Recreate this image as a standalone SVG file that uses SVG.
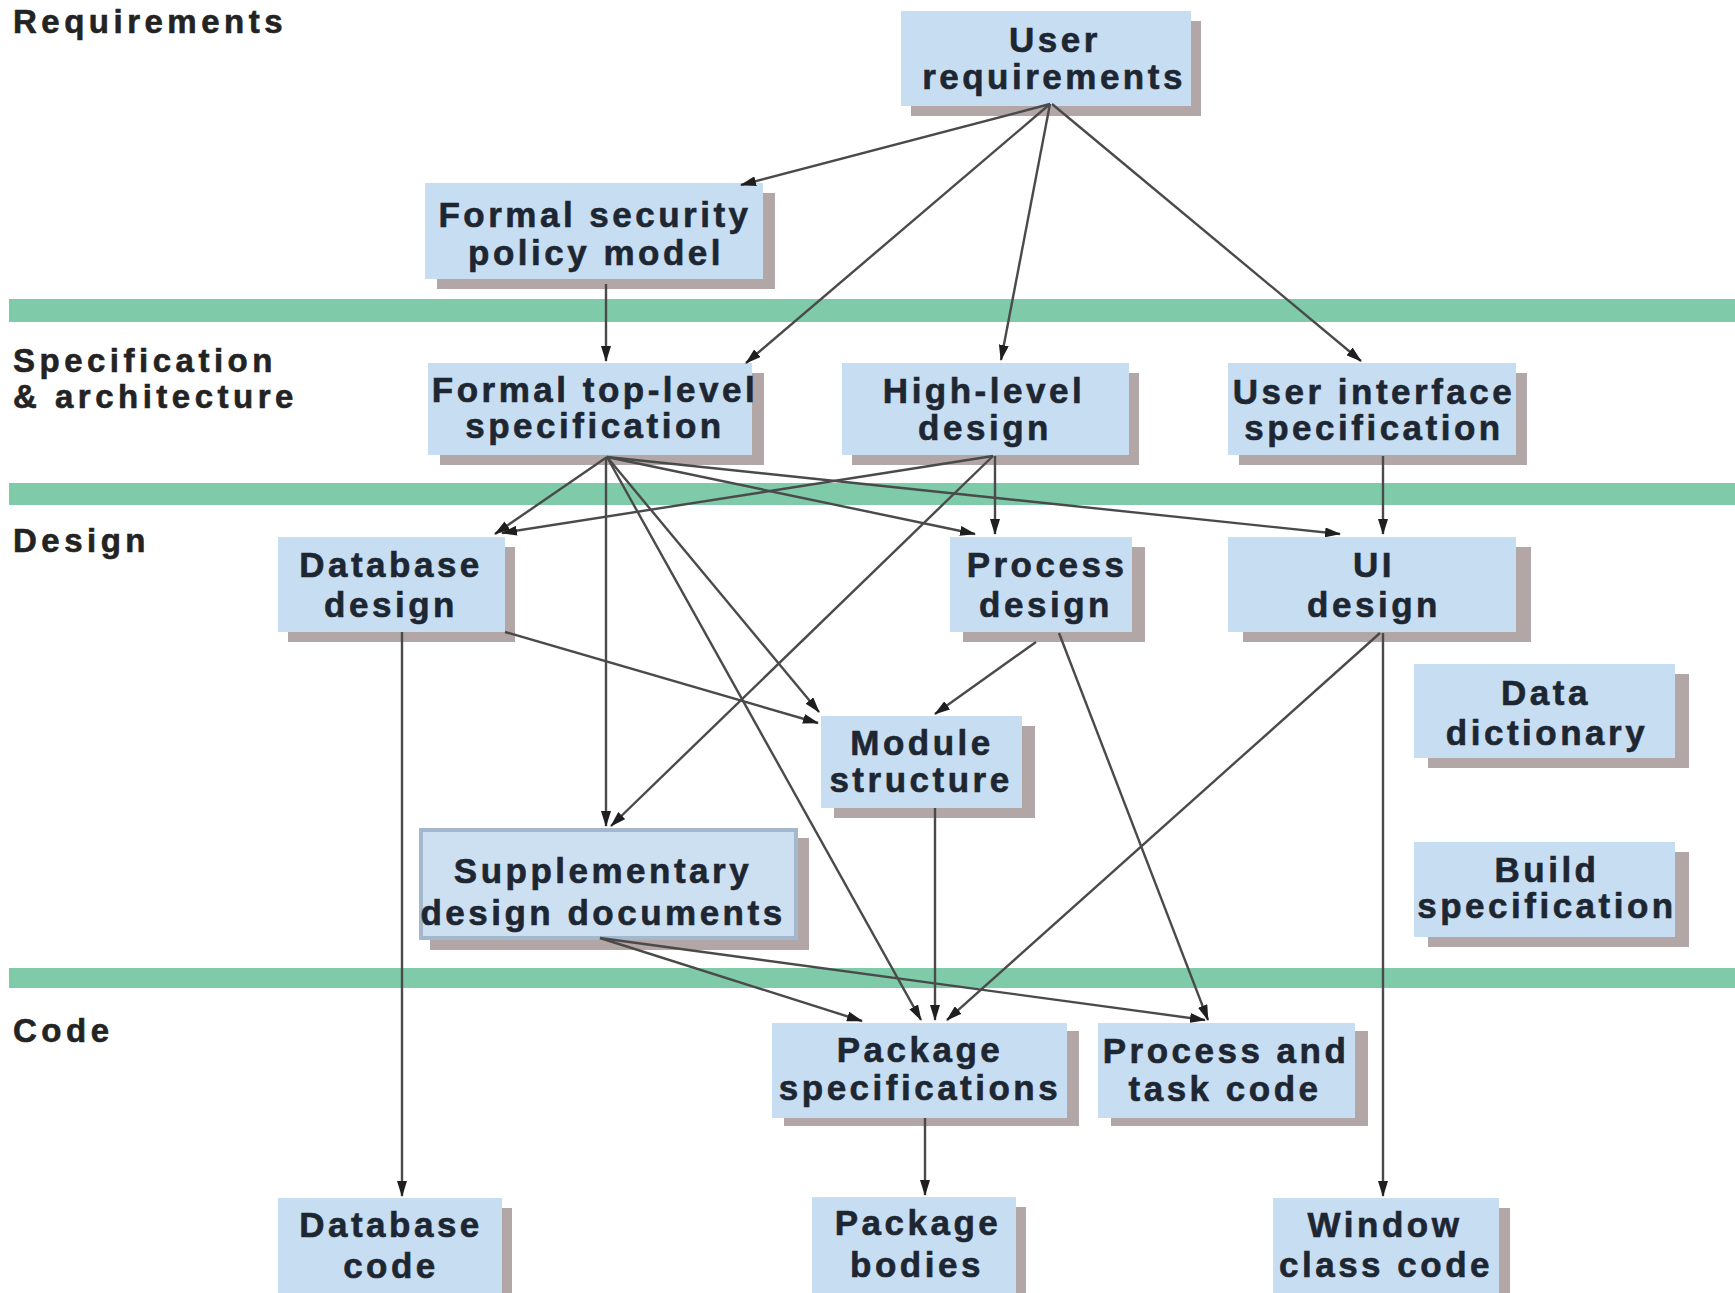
<svg xmlns="http://www.w3.org/2000/svg" width="1735" height="1293" viewBox="0 0 1735 1293">
  <style>
    .band { fill: #7ecaa9; }
    .lane { font-family: "Liberation Sans", Arial, sans-serif; font-weight: bold; font-size: 33px; letter-spacing: 4.5px; fill: #232323; stroke: #232323; stroke-width: 0.6; }
    .box { fill: #c7ddf2; }
    .box-doc { fill: #cde0f2; stroke: #a3b8cc; stroke-width: 4; }
    .shadow { fill: #b2a6a7; }
    .label { font-family: "Liberation Sans", Arial, sans-serif; font-weight: bold; font-size: 35px; letter-spacing: 3.5px; fill: #1d2631; stroke: #1d2631; stroke-width: 0.6; text-anchor: middle; }
    .edge { fill: none; stroke: #4a4a4a; stroke-width: 2.4; marker-end: url(#arrow); }
  </style>
  <defs>
    <marker id="arrow" viewBox="0 0 16 10" refX="15" refY="5" markerWidth="16" markerHeight="10" markerUnits="userSpaceOnUse" orient="auto">
      <path d="M0,0 L16,5 L0,10 Z" fill="#1f1f1f"/>
    </marker>
  </defs>

  <rect width="1735" height="1293" fill="#ffffff"/>

  <!-- phase separators -->
  <g id="bands">
    <rect class="band" x="9" y="299" width="1726" height="23"/>
    <rect class="band" x="9" y="483" width="1726" height="22"/>
    <rect class="band" x="9" y="968" width="1726" height="20"/>
  </g>

  <!-- phase names -->
  <g id="lanes">
    <text class="lane" x="13" y="33">Requirements</text>
    <text class="lane" x="13" y="372">Specification</text>
    <text class="lane" x="13" y="408">&amp; architecture</text>
    <text class="lane" x="13" y="552">Design</text>
    <text class="lane" x="13" y="1042">Code</text>
  </g>

  <g id="user-requirements">
    <rect class="shadow" x="911" y="21" width="290" height="95"/>
    <rect class="box" x="901" y="11" width="290" height="95"/>
    <text class="label" x="1055" y="52">User</text>
    <text class="label" x="1054" y="89">requirements</text>
  </g>

  <g id="formal-security-policy-model">
    <rect class="shadow" x="437" y="193" width="338" height="96"/>
    <rect class="box" x="425" y="183" width="338" height="96"/>
    <text class="label" x="595" y="227">Formal security</text>
    <text class="label" x="596" y="265">policy model</text>
  </g>

  <g id="formal-top-level-specification">
    <rect class="shadow" x="440" y="373" width="324" height="92"/>
    <rect class="box" x="428" y="363" width="324" height="92"/>
    <text class="label" x="595" y="402">Formal top-level</text>
    <text class="label" x="595" y="438">specification</text>
  </g>

  <g id="high-level-design">
    <rect class="shadow" x="852" y="373" width="287" height="92"/>
    <rect class="box" x="842" y="363" width="287" height="92"/>
    <text class="label" x="984" y="403">High-level</text>
    <text class="label" x="985" y="440">design</text>
  </g>

  <g id="user-interface-specification">
    <rect class="shadow" x="1239" y="373" width="288" height="92"/>
    <rect class="box" x="1228" y="363" width="288" height="92"/>
    <text class="label" x="1374" y="404">User interface</text>
    <text class="label" x="1374" y="440">specification</text>
  </g>

  <g id="database-design">
    <rect class="shadow" x="288" y="547" width="227" height="95"/>
    <rect class="box" x="278" y="537" width="227" height="95"/>
    <text class="label" x="391" y="577">Database</text>
    <text class="label" x="391" y="617">design</text>
  </g>

  <g id="process-design">
    <rect class="shadow" x="963" y="547" width="182" height="95"/>
    <rect class="box" x="950" y="537" width="182" height="95"/>
    <text class="label" x="1047" y="577">Process</text>
    <text class="label" x="1046" y="617">design</text>
  </g>

  <g id="ui-design">
    <rect class="shadow" x="1243" y="547" width="288" height="95"/>
    <rect class="box" x="1228" y="537" width="288" height="95"/>
    <text class="label" x="1374" y="577">UI</text>
    <text class="label" x="1374" y="617">design</text>
  </g>

  <g id="data-dictionary">
    <rect class="shadow" x="1428" y="674" width="261" height="94"/>
    <rect class="box" x="1414" y="664" width="261" height="94"/>
    <text class="label" x="1546" y="705">Data</text>
    <text class="label" x="1547" y="745">dictionary</text>
  </g>

  <g id="module-structure">
    <rect class="shadow" x="834" y="726" width="201" height="92"/>
    <rect class="box" x="821" y="716" width="201" height="92"/>
    <text class="label" x="922" y="755">Module</text>
    <text class="label" x="921" y="792">structure</text>
  </g>

  <g id="build-specification">
    <rect class="shadow" x="1428" y="852" width="261" height="95"/>
    <rect class="box" x="1414" y="842" width="261" height="95"/>
    <text class="label" x="1547" y="882">Build</text>
    <text class="label" x="1547" y="918">specification</text>
  </g>

  <g id="supplementary-design-documents">
    <rect class="shadow" x="430" y="838" width="379" height="112"/>
    <rect class="box-doc" x="421" y="830" width="375" height="108"/>
    <text class="label" x="603" y="883">Supplementary</text>
    <text class="label" x="603" y="925">design documents</text>
  </g>

  <g id="package-specifications">
    <rect class="shadow" x="784" y="1031" width="295" height="95"/>
    <rect class="box" x="772" y="1023" width="295" height="95"/>
    <text class="label" x="920" y="1062">Package</text>
    <text class="label" x="920" y="1100">specifications</text>
  </g>

  <g id="process-and-task-code">
    <rect class="shadow" x="1111" y="1031" width="257" height="95"/>
    <rect class="box" x="1098" y="1023" width="257" height="95"/>
    <text class="label" x="1226" y="1063">Process and</text>
    <text class="label" x="1225" y="1101">task code</text>
  </g>

  <g id="database-code">
    <rect class="shadow" x="288" y="1208" width="224" height="95"/>
    <rect class="box" x="278" y="1198" width="224" height="95"/>
    <text class="label" x="391" y="1237">Database</text>
    <text class="label" x="391" y="1278">code</text>
  </g>

  <g id="package-bodies">
    <rect class="shadow" x="822" y="1207" width="204" height="95"/>
    <rect class="box" x="812" y="1197" width="204" height="96"/>
    <text class="label" x="918" y="1235">Package</text>
    <text class="label" x="917" y="1277">bodies</text>
  </g>

  <g id="window-class-code">
    <rect class="shadow" x="1284" y="1208" width="226" height="95"/>
    <rect class="box" x="1273" y="1198" width="226" height="95"/>
    <text class="label" x="1385" y="1237">Window</text>
    <text class="label" x="1386" y="1277">class code</text>
  </g>

  <!-- dependency arrows -->
  <g id="connectors">
    <line class="edge" x1="1050" y1="104" x2="741" y2="185"/>
    <line class="edge" x1="1050" y1="104" x2="746" y2="363"/>
    <line class="edge" x1="1050" y1="104" x2="1001" y2="360"/>
    <line class="edge" x1="1052" y1="104" x2="1361" y2="361"/>
    <line class="edge" x1="606" y1="284" x2="606" y2="361"/>
    <line class="edge" x1="1383" y1="456" x2="1383" y2="534"/>
    <line class="edge" x1="607" y1="457" x2="495" y2="534"/>
    <line class="edge" x1="606" y1="457" x2="606" y2="826"/>
    <line class="edge" x1="607" y1="457" x2="819" y2="712"/>
    <line class="edge" x1="607" y1="457" x2="921" y2="1020"/>
    <line class="edge" x1="607" y1="457" x2="975" y2="534"/>
    <line class="edge" x1="607" y1="457" x2="1340" y2="534"/>
    <line class="edge" x1="993" y1="456" x2="502" y2="533"/>
    <line class="edge" x1="995" y1="456" x2="995" y2="534"/>
    <line class="edge" x1="993" y1="456" x2="611" y2="826"/>
    <line class="edge" x1="505" y1="632" x2="818" y2="723"/>
    <line class="edge" x1="1036" y1="642" x2="935" y2="714"/>
    <line class="edge" x1="1059" y1="633" x2="1208" y2="1020"/>
    <line class="edge" x1="935" y1="808" x2="935" y2="1020"/>
    <line class="edge" x1="1380" y1="633" x2="947" y2="1020"/>
    <line class="edge" x1="1383" y1="633" x2="1383" y2="1196"/>
    <line class="edge" x1="600" y1="938" x2="862" y2="1021"/>
    <line class="edge" x1="600" y1="938" x2="1205" y2="1020"/>
    <line class="edge" x1="402" y1="632" x2="402" y2="1196"/>
    <line class="edge" x1="925" y1="1118" x2="925" y2="1195"/>
  </g>
</svg>
